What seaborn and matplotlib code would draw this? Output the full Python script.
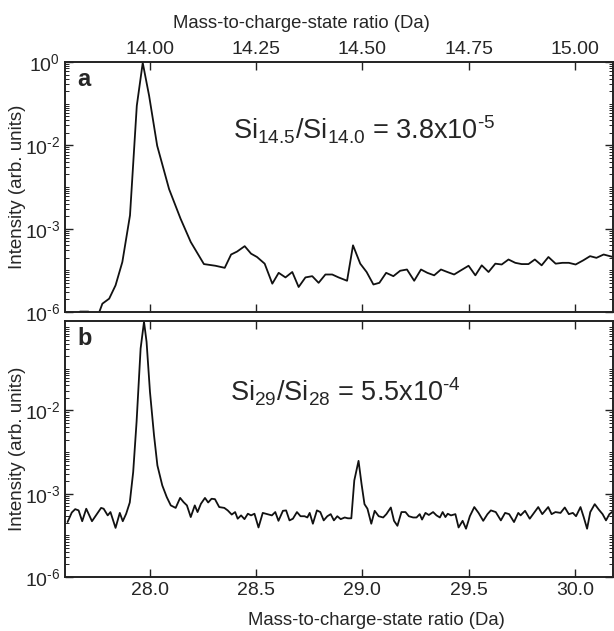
import numpy as np
import pandas as pd
import seaborn as sns
import matplotlib.pyplot as plt
from matplotlib.ticker import FixedLocator, FixedFormatter, LogLocator, NullFormatter

# panel a : mass spectrum around 14 Da (log10 of intensity)
mass_a = [13.802, 13.818, 13.835, 13.855, 13.868, 13.880, 13.888, 13.904, 13.919, 13.935,
          13.953, 13.969, 13.983, 13.998, 14.017, 14.045, 14.072, 14.096, 14.127, 14.154,
          14.176, 14.191, 14.205, 14.223, 14.238, 14.252, 14.270, 14.288, 14.303, 14.319,
          14.335, 14.350, 14.366, 14.382, 14.397, 14.413, 14.429, 14.444, 14.464, 14.478,
          14.495, 14.510, 14.526, 14.540, 14.556, 14.573, 14.589, 14.605, 14.622, 14.638,
          14.653, 14.669, 14.685, 14.700, 14.716, 14.732, 14.750, 14.766, 14.781, 14.797,
          14.813, 14.828, 14.844, 14.860, 14.875, 14.891, 14.906, 14.922, 14.938, 14.955,
          14.971, 14.986, 15.002, 15.020, 15.036, 15.051, 15.068, 15.090]
logint_a = [-6.3, -6.25, -5.99, -5.99, -6.3, -6.02, -5.80, -5.68, -5.36, -4.80,
            -3.68, -1.05, -0.02, -0.81, -2.01, -3.05, -3.76, -4.32, -4.85, -4.89,
            -4.94, -4.62, -4.55, -4.42, -4.60, -4.68, -4.84, -5.32, -5.06, -5.17,
            -5.04, -5.40, -5.17, -5.14, -5.30, -5.10, -5.10, -5.17, -5.25, -4.40,
            -4.84, -5.04, -5.34, -5.30, -5.06, -5.14, -5.01, -4.98, -5.25, -4.98,
            -5.06, -5.12, -4.98, -5.04, -5.10, -5.00, -4.89, -5.12, -4.88, -5.04,
            -4.84, -4.86, -4.74, -4.82, -4.85, -4.85, -4.74, -4.88, -4.68, -4.84,
            -4.82, -4.82, -4.86, -4.76, -4.66, -4.70, -4.62, -4.68]

# panel b : mass spectrum around 28 Da (log10 of intensity)
mass_b = [27.612, 27.632, 27.648, 27.664, 27.681, 27.700, 27.727, 27.751, 27.770, 27.782,
          27.801, 27.814, 27.838, 27.858, 27.872, 27.888, 27.905, 27.921, 27.937, 27.956,
          27.972, 27.984, 28.000, 28.019, 28.035, 28.058, 28.079, 28.098, 28.121, 28.142,
          28.158, 28.174, 28.192, 28.211, 28.224, 28.240, 28.259, 28.274, 28.290, 28.306,
          28.326, 28.350, 28.366, 28.385, 28.401, 28.413, 28.429, 28.445, 28.461, 28.476,
          28.492, 28.511, 28.531, 28.552, 28.574, 28.590, 28.605, 28.626, 28.641, 28.657,
          28.673, 28.692, 28.709, 28.728, 28.741, 28.752, 28.767, 28.786, 28.802, 28.818,
          28.835, 28.851, 28.866, 28.882, 28.898, 28.917, 28.932, 28.948, 28.962, 28.982,
          28.996, 29.010, 29.024, 29.042, 29.058, 29.077, 29.098, 29.113, 29.134, 29.149,
          29.165, 29.184, 29.203, 29.219, 29.239, 29.255, 29.270, 29.281, 29.297, 29.313,
          29.333, 29.349, 29.365, 29.378, 29.391, 29.402, 29.417, 29.438, 29.453, 29.472,
          29.488, 29.506, 29.527, 29.547, 29.569, 29.589, 29.605, 29.628, 29.652, 29.672,
          29.691, 29.714, 29.734, 29.745, 29.766, 29.788, 29.808, 29.828, 29.847, 29.875,
          29.891, 29.909, 29.933, 29.953, 29.972, 29.991, 30.006, 30.027, 30.042, 30.058,
          30.073, 30.094, 30.113, 30.131, 30.147, 30.163, 30.183]
logint_b = [-4.68, -4.45, -4.37, -4.40, -4.66, -4.36, -4.66, -4.48, -4.34, -4.36,
            -4.52, -4.44, -4.82, -4.46, -4.66, -4.48, -4.21, -3.48, -2.27, -0.51,
            0.13, -0.35, -1.55, -2.59, -3.32, -3.80, -4.08, -4.28, -4.34, -4.10,
            -4.20, -4.28, -4.56, -4.28, -4.44, -4.24, -4.10, -4.21, -4.12, -4.13,
            -4.32, -4.34, -4.40, -4.50, -4.44, -4.60, -4.52, -4.61, -4.48, -4.52,
            -4.48, -4.81, -4.46, -4.49, -4.52, -4.44, -4.65, -4.41, -4.40, -4.64,
            -4.60, -4.44, -4.54, -4.54, -4.57, -4.46, -4.72, -4.40, -4.44, -4.64,
            -4.54, -4.49, -4.64, -4.54, -4.61, -4.57, -4.59, -4.59, -3.68, -3.21,
            -3.76, -4.25, -4.36, -4.72, -4.41, -4.54, -4.57, -4.49, -4.33, -4.65,
            -4.77, -4.44, -4.44, -4.54, -4.57, -4.57, -4.49, -4.62, -4.46, -4.51,
            -4.44, -4.52, -4.57, -4.44, -4.56, -4.48, -4.52, -4.49, -4.81, -4.65,
            -4.84, -4.54, -4.32, -4.46, -4.65, -4.49, -4.40, -4.44, -4.64, -4.46,
            -4.49, -4.68, -4.46, -4.52, -4.41, -4.60, -4.46, -4.32, -4.49, -4.32,
            -4.49, -4.44, -4.46, -4.33, -4.49, -4.46, -4.54, -4.32, -4.56, -4.84,
            -4.44, -4.25, -4.38, -4.49, -4.64, -4.49, -4.41]

ticks_a = [14.00, 14.25, 14.50, 14.75, 15.00]
ticks_b = [28.0, 28.5, 29.0, 29.5, 30.0]
ytick_pos_a = [1e0, 1e-2, 1e-4, 1e-6]
ytick_lab_a = ["$10^0$", r"$10^{\text{-}2}$", r"$10^{\text{-}3}$", r"$10^{\text{-}6}$"]
ytick_pos_b = [1e-2, 1e-4, 1e-6]
ytick_lab_b = [r"$10^{\text{-}2}$", r"$10^{\text{-}3}$", r"$10^{\text{-}6}$"]

df_a = pd.DataFrame({"mass": mass_a, "intensity": 10.0 ** np.array(logint_a)})
df_b = pd.DataFrame({"mass": mass_b, "intensity": 10.0 ** np.array(logint_b)})

sns.set_style("ticks")
plt.rcParams["font.family"] = ["Liberation Sans", "DejaVu Sans"]
plt.rcParams["mathtext.fontset"] = "custom"
plt.rcParams["mathtext.rm"] = "Liberation Sans"
plt.rcParams["mathtext.default"] = "regular"

fig = plt.figure(figsize=(6.14, 6.31), dpi=100)
ax1 = fig.add_axes([65/614, 319/631, 548/614, 250/631])
ax2 = fig.add_axes([65/614, 54/631, 548/614, 256/631])

sns.lineplot(data=df_a, x="mass", y="intensity", ax=ax1, color="#111111",
             linewidth=1.3, estimator=None, sort=False)
sns.lineplot(data=df_b, x="mass", y="intensity", ax=ax2, color="#111111",
             linewidth=1.3, estimator=None, sort=False)

fs = 14
for ax in (ax1, ax2):
    ax.set_yscale("log")
    ax.yaxis.set_minor_locator(LogLocator(base=10, subs=np.arange(1, 10), numticks=30))
    ax.yaxis.set_minor_formatter(NullFormatter())
    ax.tick_params(which="both", direction="in", top=True, right=True, labelsize=fs,
                   color="#222222", width=1)
    ax.tick_params(which="major", length=6)
    ax.tick_params(which="minor", length=3, width=0.7)
    ax.tick_params(axis="x", which="minor", length=0)
    for sp in ax.spines.values():
        sp.set_linewidth(1.4)
        sp.set_color("#222222")
    ax.set_ylabel("Intensity (arb. units)", fontsize=13.5)
    ax.yaxis.set_label_coords(-0.071, 0.5)

# panel a
ax1.set_xlim(13.8, 15.09)
ax1.set_ylim(1e-6, 1.0)
ax1.set_xticks(ticks_a)
ax1.set_xticklabels([f"{t:.2f}" for t in ticks_a])
ax1.xaxis.set_ticks_position("both")
ax1.xaxis.set_label_position("top")
ax1.tick_params(axis="x", labeltop=True, labelbottom=False, pad=3)
ax1.yaxis.set_major_locator(FixedLocator(ytick_pos_a))
ax1.yaxis.set_major_formatter(FixedFormatter(ytick_lab_a))
ax1.set_xlabel("Mass-to-charge-state ratio (Da)", fontsize=13.3)
ax1.xaxis.set_label_coords(0.432, 1.136)
ax1.text(0.022, 0.975, "a", transform=ax1.transAxes, fontsize=17, fontweight="bold",
         ha="left", va="top")
ax1.text(0.546, 0.728, r"Si$_{14.5}$/Si$_{14.0}$ = 3.8x10$^{\text{-}5}$",
         transform=ax1.transAxes, fontsize=19.5, ha="center", va="center")

# panel b
ax2.set_xlim(27.6, 30.18)
ax2.set_ylim(1e-6, 10 ** 0.15)
ax2.set_xticks(ticks_b)
ax2.set_xticklabels([f"{t:.1f}" for t in ticks_b])
ax2.yaxis.set_major_locator(FixedLocator(ytick_pos_b))
ax2.yaxis.set_major_formatter(FixedFormatter(ytick_lab_b))
ax2.set_xlabel("Mass-to-charge-state ratio (Da)", fontsize=13.3)
ax2.xaxis.set_label_coords(0.569, -0.135)
ax2.text(0.022, 0.975, "b", transform=ax2.transAxes, fontsize=17, fontweight="bold",
         ha="left", va="top")
ax2.text(0.511, 0.723, r"Si$_{29}$/Si$_{28}$ = 5.5x10$^{\text{-}4}$",
         transform=ax2.transAxes, fontsize=19.5, ha="center", va="center")

fig.savefig("out.png", dpi=100)
